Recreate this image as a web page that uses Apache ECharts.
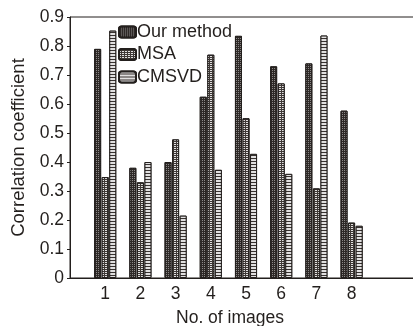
<!DOCTYPE html>
<html>
<head>
<meta charset="utf-8">
<script src="https://cdn.jsdelivr.net/npm/echarts@6/dist/echarts.min.js"></script>
<style>
html,body{margin:0;padding:0;background:#fff;}
#chart{width:413px;height:326px;}
</style>
</head>
<body>
<div id="chart"></div>
<script>
var categories = ['', '1', '2', '3', '4', '5', '6', '7', '8', '', ''];
var seriesNames = ['Our method', 'MSA', 'CMSVD'];
var ourMethod = [null, 0.79, 0.38, 0.40, 0.625, 0.835, 0.73, 0.74, 0.577, null, null];
var msa = [null, 0.348, 0.33, 0.478, 0.77, 0.551, 0.671, 0.309, 0.191, null, null];
var cmsvd = [null, 0.853, 0.40, 0.215, 0.373, 0.428, 0.359, 0.836, 0.18, null, null];
var yTicks = {min: 0, max: 0.9, interval: 0.1};

var ink = '#231f1d';
var font = 'Liberation Sans, Arial, sans-serif';
var decals = [
  {symbol: 'rect', symbolSize: 1, color: 'rgba(255,255,255,0.45)', dashArrayX: [1, 1], dashArrayY: [1, 1]},
  {symbol: 'rect', symbolSize: 1, color: 'rgba(255,255,255,0.85)', dashArrayX: [2, 1], dashArrayY: [1, 1]},
  {symbol: 'rect', symbolSize: 1, color: 'rgba(255,255,255,0.85)', dashArrayX: [[20, 0]], dashArrayY: [2, 1]}
];
var fills = ['#2e2927', '#3f3936', '#383230'];
var datas = [ourMethod, msa, cmsvd];

var chart = echarts.init(document.getElementById('chart'));
chart.setOption({
  animation: false,
  backgroundColor: '#fff',
  grid: {left: 70, top: 17, bottom: 48, right: -9, outerBoundsMode: 'none', containLabel: false,
    show: true, borderColor: ink, borderWidth: 1, backgroundColor: 'transparent'},
  legend: {
    orient: 'vertical', left: 118, top: 23, itemWidth: 17, itemHeight: 11, itemGap: 4.5,
    padding: [0, 0, 0, 0],
    textStyle: {fontFamily: font, fontSize: 18, lineHeight: 18, color: ink, padding: [0, 0, 0, -4]},
    data: seriesNames
  },
  xAxis: {
    type: 'category', data: categories, boundaryGap: false,
    axisLine: {lineStyle: {color: ink, width: 1}},
    axisTick: {show: false},
    axisLabel: {fontFamily: font, fontSize: 17.5, color: ink, margin: 7, interval: 0},
    name: 'No. of images', nameLocation: 'middle', nameGap: 31,
    nameTextStyle: {fontFamily: font, fontSize: 17.5, color: ink, padding: [0, 32, 0, 0]}
  },
  yAxis: {
    type: 'value', min: yTicks.min, max: yTicks.max, interval: yTicks.interval,
    splitLine: {show: false},
    axisLine: {show: true, lineStyle: {color: ink, width: 1}},
    axisTick: {show: true, inside: false, length: 3, lineStyle: {color: ink}},
    axisLabel: {fontFamily: font, fontSize: 17.5, color: ink, margin: 6,
      formatter: function (v) { return v === 0 ? '0' : v.toFixed(1); }},
    name: 'Correlation coefficient', nameLocation: 'middle', nameGap: 34,
    nameTextStyle: {fontFamily: font, fontSize: 18.5, color: ink}
  },
  series: seriesNames.map(function (n, i) {
    return {
      name: n, type: 'bar', data: datas[i], barWidth: 7, barGap: '8%',
      itemStyle: {color: fills[i], borderColor: ink, borderWidth: 1, decal: decals[i]}
    };
  })
});
</script>
</body>
</html>
